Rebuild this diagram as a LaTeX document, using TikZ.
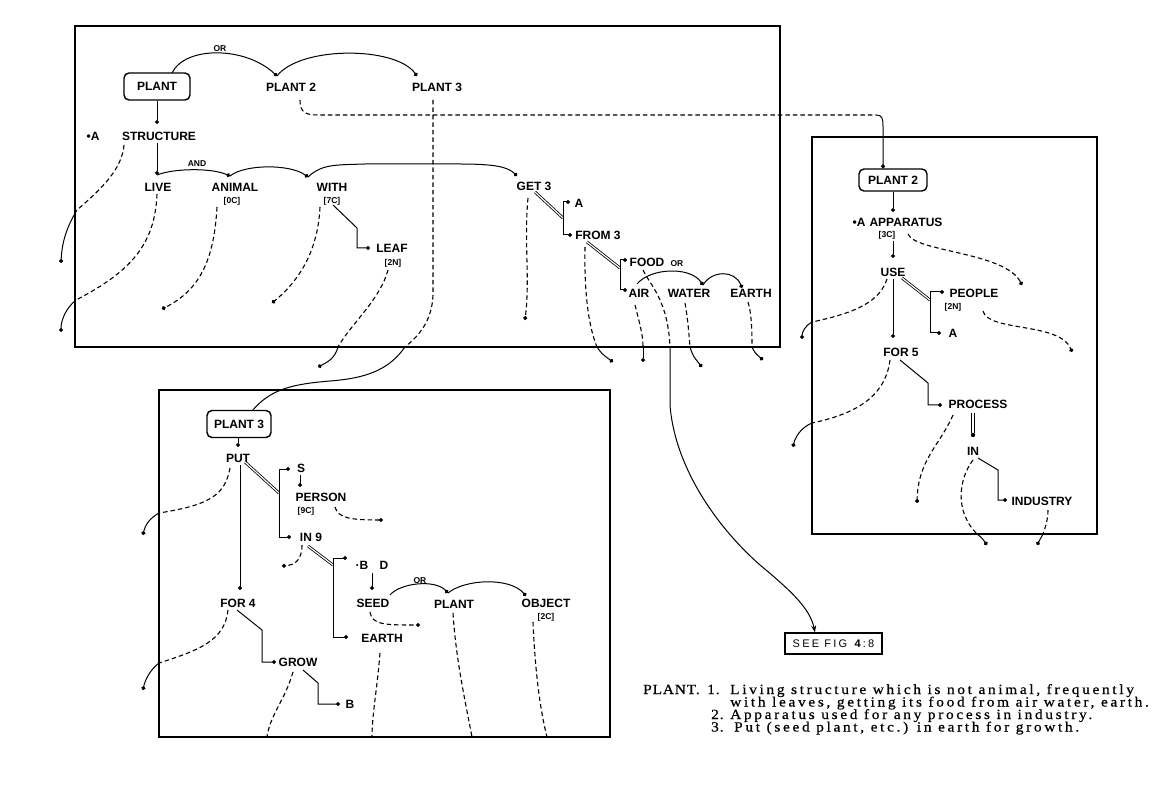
\documentclass[tikz,border=0pt]{standalone}
\usepackage{fontspec}
\setmainfont{Liberation Serif}
\setsansfont{Liberation Sans}
\newfontfamily\capfont[FakeStretch=1.1,LetterSpace=19,FakeBold=0.6]{Liberation Serif}
\newfontfamily\capfontb[FakeStretch=1.1,LetterSpace=6,FakeBold=0.6]{Liberation Serif}
\newfontfamily\seefont[LetterSpace=20]{Liberation Sans}
\usetikzlibrary{arrows.meta}
\tikzset{
 lbl/.style={font=\sffamily\bfseries\fontsize{12}{13}\selectfont, inner sep=0pt},
 sml/.style={font=\sffamily\bfseries\fontsize{8.5}{9}\selectfont, inner sep=0pt},
 tag/.style={font=\sffamily\bfseries\fontsize{8.5}{9}\selectfont, inner sep=0pt},
 rbox/.style={draw, line width=1.4pt, rounded corners=5pt, inner sep=0pt, font=\sffamily\bfseries\fontsize{12}{13}\selectfont},
 frame/.style={line width=1.8pt},
 link/.style={line width=1pt},
 dotend/.style={-{Circle[length=4pt]}},
 dline/.style={line width=1.1pt, dash pattern=on 4.5pt off 3pt},
 dbl/.style={double, double distance=1.2pt, line width=0.8pt},
 captxt/.style={font=\capfont\fontsize{14}{15}\selectfont, inner sep=0pt, anchor=base west},
 capnum/.style={font=\capfontb\fontsize{14}{15}\selectfont, inner sep=0pt, anchor=base west},
}
\begin{document}
\begin{tikzpicture}[x=1pt,y=-1pt]
\useasboundingbox (0,0) rectangle (1173,791);
\fill[white] (0,0) rectangle (1173,791);
\coordinate (x883) at (883,0);
\coordinate (x815) at (815,0);
\coordinate (x253) at (253,0);
% frames
\draw[frame] (75,26) rectangle (780,347);
\draw[frame] (812,137) rectangle (1097,534);
\draw[frame] (159,390) rectangle (610,737);

% ================= BOX 1 =================
\node[rbox, minimum width=66pt, minimum height=27pt] (plant) at (157,86.5) {PLANT};
\node[lbl] (plant2) at (291,87) {PLANT 2};
\node[lbl] (plant3) at (437,87) {PLANT 3};
\node[sml] (or1) at (220,49) {OR};
\coordinate (o1s) at (172,73);
\coordinate (o1e) at (277,76);
\coordinate (o2e) at (417,76);
\draw[link,dotend] (o1s) .. controls (185,46) and (245,46) .. (o1e);
\draw[link,dotend] (o1e) .. controls (300,46) and (395,46) .. (o2e);

\node[lbl] (a1) at (93,136) {•A};
\node[lbl] (structure) at (159,136) {STRUCTURE};
\draw[link,dotend] (plant.south) -- (157,124);
\coordinate (livedot) at (157,175);
\draw[link,dotend] (157,143) -- (livedot);
\node[lbl] (live) at (158,187) {LIVE};
\node[lbl] (animal) at (235,187) {ANIMAL};
\node[tag] (t0c) at (232,201) {[0C]};
\node[lbl] (with) at (332,187) {WITH};
\node[tag] (t7c) at (332,201) {[7C]};
\node[sml] (and) at (197,164) {AND};
\coordinate (anidot) at (230,176);
\coordinate (withdot) at (308,177);
\coordinate (getdot) at (517,176);
\draw[link,dotend] (livedot) .. controls (175,168) and (212,168) .. (anidot);
\draw[link,dotend] (anidot) .. controls (245,164) and (290,164) .. (withdot);
\draw[link,dotend] (withdot) .. controls (322,164) and (335,165) .. (365,164) -- (460,164) .. controls (495,164) and (508,167) .. (getdot);

\node[lbl] (leaf) at (392,248) {LEAF};
\node[tag] (t2n) at (393,263) {[2N]};
\draw[link,dotend] (333,205) -- (357,228) -- (357,248) -- (370,248);

% dashed from box 1 nodes
\draw[dline] (124,145) .. controls (122,170) and (100,190) .. (77,210);
\draw[link,dotend] (77,210) .. controls (68,225) and (62,240) .. (61,263);
\draw[dline] (157,194) .. controls (155,245) and (130,272) .. (76,300);
\draw[link,dotend] (76,300) .. controls (66,308) and (61,320) .. (61,332);
\draw[dline,dotend] (217,207) .. controls (214,260) and (200,290) .. (162,309);
\draw[dline,dotend] (320,207) .. controls (318,250) and (300,280) .. (272,303);
\draw[dline] (388,270) .. controls (380,300) and (350,325) .. (338,347);
\draw[link,dotend] (338,347) .. controls (335,358) and (328,362) .. (318,367);

% PLANT 2 link to box 2
\coordinate (p2turn) at (876,115);
\draw[dline] (300,100) .. controls (300,112) and (305,115) .. (318,115) -- (p2turn);

% PLANT 3 link to box 3
\coordinate (p3exit) at (405,347);
\draw[dline] (433,100) -- (433,295) .. controls (432,320) and (420,335) .. (p3exit);

% GET 3 branch
\node[lbl] (get3) at (534,186) {GET 3};
\coordinate (gb) at (563,218);
\draw[dbl] (535,192) -- (gb);
\draw[link,dotend] (gb) -- (563,202) -- (570,202);
\node[lbl] (ga) at (579,203) {A};
\draw[link,dotend] (gb) -- (563,235) -- (572,235);
\node[lbl] (from3) at (598,235) {FROM 3};
\coordinate (fb) at (620,268);
\draw[dbl] (587,242) -- (fb);
\draw[link,dotend] (fb) -- (620,260) -- (627,260);
\draw[link,dotend] (fb) -- (620,290) -- (627,290);
\node[lbl] (food) at (647,262) {FOOD};
\node[lbl] (air) at (639,293) {AIR};
\node[lbl] (water) at (689,293) {WATER};
\node[lbl] (earth1) at (751,293) {EARTH};
\node[sml] (or2) at (677,264) {OR};
\coordinate (wdot) at (703,285);
\draw[link,dotend] (637,284) .. controls (650,268) and (690,266) .. (wdot);
\draw[link,dotend] (wdot) .. controls (712,270) and (735,270) .. (742,288);

\draw[dline,dotend] (528,198) .. controls (524,240) and (530,280) .. (525,320);
\draw[dline] (585,247) .. controls (584,300) and (590,330) .. (597,347);
\draw[link,dotend] (597,347) .. controls (602,354) .. (613,362);
\draw[dline] (635,305) .. controls (640,325) and (643,335) .. (643,347);
\draw[link,dotend] (643,347) -- (643,362);
\draw[dline] (685,303) .. controls (688,320) and (689,335) .. (690,347);
\draw[link,dotend] (690,347) .. controls (693,356) .. (702,367);
\draw[dline] (748,302) .. controls (752,315) and (752,335) .. (752,347);
\draw[link,dotend] (752,347) .. controls (755,353) .. (763,360);
\coordinate (foodexit) at (670,347);
\draw[dline] (643,270) .. controls (650,285) and (668,300) .. (foodexit);

% ================= SEE FIG =================
\node[draw, line width=1.2pt, minimum width=97pt, minimum height=21pt, inner sep=0pt,
      font=\seefont\fontsize{11}{12}\selectfont] (seefig) at (833.5,643.5) {SEE FIG \textbf{4}:8};
\draw[link,-{Stealth[length=7pt,width=5pt]}] (foodexit) -- (670,405) .. controls (675,470) and (720,530) .. (760,565) .. controls (790,590) and (810,608) .. (seefig.north -| x815);

% ================= BOX 2 =================
\node[rbox, minimum width=68pt, minimum height=22pt] (p2box) at (893,180) {PLANT 2};
\draw[link,-{Circle[length=4pt]}] (p2turn) .. controls (882,115) and (883,118) .. (883,126) -- (p2box.north -| x883);
\draw[link,dotend] (p2box.south) -- (893,212);
\node[lbl] (a2) at (859,222) {•A};
\node[lbl] (apparatus) at (906,222) {APPARATUS};
\node[tag] (t3c) at (887,235) {[3C]};
\draw[link,dotend] (893,241) -- (893,258);
\node[lbl] (use) at (893,272) {USE};
\coordinate (ub) at (930,300);
\draw[dbl] (902,278) -- (ub);
\draw[link,dotend] (ub) -- (930,292) -- (944,292);
\draw[link,dotend] (ub) -- (930,333) -- (941,333);
\node[lbl] (people) at (974,293) {PEOPLE};
\node[tag] (t2n2) at (953,307) {[2N]};
\node[lbl] (a3) at (953,333) {A};
\draw[link,dotend] (893,279) -- (893,338);
\node[lbl] (for5) at (901,352) {FOR 5};
\draw[link,dotend] (900,360) -- (928,383) -- (928,405) -- (942,405);
\node[lbl] (process) at (978,404) {PROCESS};
\node[lbl] (in) at (973,451) {IN};
\coordinate (indot) at (973,435);
\draw[line width=0.9pt] (971.6,413) -- (971.6,433) (974.4,413) -- (974.4,433);
\fill (indot) circle (2.2pt);
\draw[link,dotend] (978,458) -- (998,470) -- (998,500) -- (1007,500);
\node[lbl] (industry) at (1042,501) {INDUSTRY};

\draw[dline,dotend] (908,234) .. controls (915,252) and (1005,252) .. (1022,285);
\draw[dline] (887,279) .. controls (880,300) and (860,312) .. (812,322);
\draw[link,dotend] (812,322) .. controls (805,326) and (802,332) .. (802,339);
\draw[dline,dotend] (983,311) .. controls (988,332) and (1060,322) .. (1072,352);
\draw[dline] (890,360) .. controls (885,400) and (850,415) .. (812,423);
\draw[link,dotend] (812,423) .. controls (800,428) and (795,438) .. (793,447);
\draw[dline,dotend] (953,415) .. controls (940,445) and (918,460) .. (917,503);
\draw[dline] (973,460) .. controls (958,480) and (955,512) .. (977,534);
\draw[link,dotend] (977,534) .. controls (982,538) .. (987,545);
\draw[dline] (1048,510) .. controls (1048,520) and (1045,528) .. (1043,534);
\draw[link,dotend] (1043,534) -- (1037,545);

% ================= BOX 3 =================
\node[rbox, minimum width=64pt, minimum height=27pt] (p3box) at (239,424) {PLANT 3};
\draw[link] (p3exit) .. controls (390,368) and (370,378) .. (330,381) .. controls (295,384) and (272,388) .. (p3box.north -| x253);
\draw[link,dotend] (238,438) -- (238,447);
\node[lbl] (put) at (238,458) {PUT};
\draw[link,dotend] (240,465) -- (240,590);
\node[lbl] (for4) at (238,603) {FOR 4};
\coordinate (pb) at (279,493);
\draw[dbl] (245,462) -- (pb);
\draw[link,dotend] (pb) -- (279,469) -- (290,469);
\node[lbl] (s) at (301,468) {S};
\draw[link,dotend] (300,475) -- (300,487);
\node[lbl] (person) at (321,497) {PERSON};
\node[tag] (t9c) at (306,511) {[9C]};
\draw[dline,dotend] (335,507) .. controls (338,518) and (350,520) .. (383,520);
\draw[link,dotend] (pb) -- (279,537) -- (291,537);
\node[lbl] (in9) at (311,537) {IN 9};
\draw[dline,dotend] (302,545) .. controls (302,560) and (295,565) .. (282,566);
\coordinate (ib) at (333,565);
\draw[dbl] (308,546) -- (ib);
\draw[link,dotend] (ib) -- (333,558) -- (347,558);
\node[lbl] (bnode) at (362,565) {·B};
\node[lbl] (dnode) at (384,565) {D};
\draw[link,dotend] (ib) -- (333,637) -- (348,637);
\node[lbl] (earth3) at (382,638) {EARTH};
\draw[link,dotend] (372,573) -- (372,590);
\node[lbl] (seed) at (373,603) {SEED};
\node[sml] (or3) at (420,581) {OR};
\coordinate (pldot) at (448,593);
\draw[link,dotend] (390,595) .. controls (400,583) and (435,579) .. (pldot);
\node[lbl] (plantb) at (454,604) {PLANT};
\draw[link,dotend] (pldot) .. controls (465,579) and (510,577) .. (526,596);
\node[lbl] (object) at (546,603) {OBJECT};
\node[tag] (t2c) at (546,617) {[2C]};
\draw[dline,dotend] (370,612) .. controls (372,625) and (385,625) .. (420,625);
\draw[dline] (380,653) .. controls (377,690) and (372,715) .. (372,737);
\draw[dline] (453,613) .. controls (456,660) and (465,700) .. (472,737);
\draw[dline] (533,622) .. controls (535,670) and (540,710) .. (547,737);
\draw[link,dotend] (237,610) -- (262,630) -- (262,662) -- (276,662);
\node[lbl] (grow) at (298,662) {GROW};
\draw[link,dotend] (303,670) -- (318,683) -- (318,704) -- (340,704);
\node[lbl] (b2) at (350,704) {B};
\draw[dline] (293,672) .. controls (285,700) and (270,715) .. (267,737);
\draw[dline] (230,468) .. controls (225,495) and (210,505) .. (159,513);
\draw[link,dotend] (159,513) .. controls (150,518) and (145,525) .. (143,535);
\draw[dline] (228,610) .. controls (225,640) and (200,650) .. (159,663);
\draw[link,dotend] (159,663) .. controls (150,670) and (145,680) .. (143,690);

% ================= CAPTION =================
\node[capnum] (cplant) at (643,694) {PLANT.};
\node[capnum] (c1) at (707,694) {1.};
\node[captxt] (c1a) at (730,694) {Living structure which is not animal, frequently};
\node[captxt] (c1b) at (730,706.5) {with leaves, getting its food from air water, earth.};
\node[capnum] (c2) at (711,719) {2.};
\node[captxt] (c2a) at (730,719) {Apparatus used for any process in industry.};
\node[capnum] (c3) at (711,731.5) {3.};
\node[captxt] (c3a) at (734,731.5) {Put (seed plant, etc.) in earth for growth.};
\end{tikzpicture}
\end{document}
